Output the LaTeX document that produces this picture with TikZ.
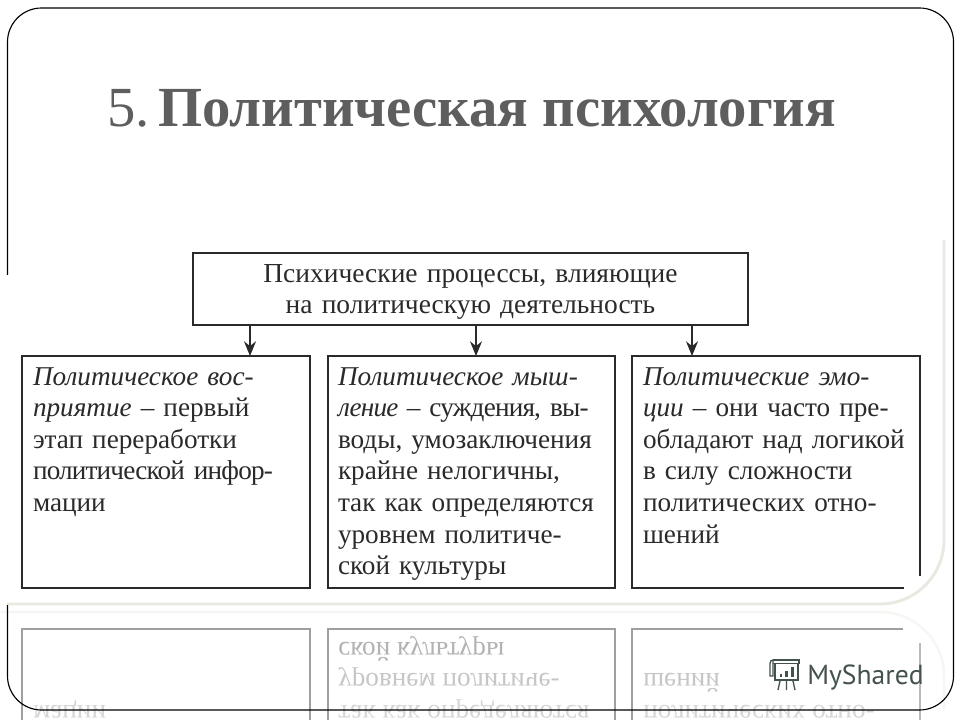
\documentclass[tikz,border=0pt]{standalone}
\usepackage{fontspec}
\setmainfont{Liberation Serif}
\newfontfamily\logofont{PT Sans}
\usetikzlibrary{arrows.meta}
\definecolor{inkc}{HTML}{2A2A2A}
\definecolor{titlec}{HTML}{5E5E5E}
\definecolor{edgec}{HTML}{E9E9E2}
\definecolor{edgeb}{HTML}{F6F6F2}
\definecolor{logoc}{HTML}{43524E}
\definecolor{r1c}{HTML}{B2B2B2}
\definecolor{r2c}{HTML}{C6C6C6}
\definecolor{r3c}{HTML}{D6D6D6}
\newcommand{\tightline}[1]{{\addfontfeature{LetterSpace=-3}#1}}
\tikzset{
  x=0.75pt,y=-0.75pt,
  boxline/.style={draw=inkc,line width=1.15pt},
  body/.style={font=\fontsize{20.4pt}{23.7pt}\selectfont,text=inkc},
  colbox/.style={boxline,body,anchor=north west,inner xsep=8.25pt,inner ysep=0pt,
    text width=199.5pt,align=left,text height=21.75pt,text depth=152.25pt,outer sep=0pt},
  topbox/.style={boxline,font=\fontsize{20.6pt}{22.5pt}\selectfont,text=inkc,align=center,inner sep=0pt,outer sep=0pt,
    text width=416.25pt,text height=22.5pt,text depth=31.5pt,anchor=north west},
  arr/.style={draw=inkc,line width=1.1pt,-{Stealth[length=11pt,width=9pt]}},
  frame/.style={draw=black,line width=0.85pt,rounded corners=25.5pt},
  reflbox/.style={line width=1.1pt},
  refltext/.style={font=\fontsize{20.4pt}{23.7pt}\selectfont,anchor=base west,inner sep=0pt},
}
\begin{document}
\begin{tikzpicture}
\useasboundingbox (0,0) rectangle (960,720);
\clip (0,0) rectangle (960,720);
\fill[white] (0,0) rectangle (960,720);

% reflection of the boxes
\draw[reflbox,draw=gray!75] (22,720) |- (310,629) -- (310,720);
\draw[reflbox,draw=gray!75] (328,720) |- (615,629) -- (615,720);
\draw[reflbox,draw=gray!75] (632,720) |- (903,629);
\draw[reflbox,draw=gray!55] (920,643) -- (920,720);
\begin{scope}[cm={1,0,0,-1,(0pt,-912.75pt)},transform shape]
  \node[refltext,text=r1c] (r2a) at (338,575) {ской культуры};
  \node[refltext,text=r2c] (r2b) at (338,543.5) {уровнем политиче-};
  \node[refltext,text=r3c] (r2c) at (338,512) {так как определяются};
  \node[refltext,text=r2c] (r3a) at (643,543.5) {шений};
  \node[refltext,text=r3c] (r3b) at (643,512) {политических отно-};
  \node[refltext,text=r3c] (r1a) at (33,512) {мации};
\end{scope}

% title
\node[anchor=base west,inner sep=0pt,text=titlec,font=\fontsize{42.5pt}{50pt}\selectfont] (title)
  at (107,127) {5.\hspace{6.4pt}\textbf{Политическая психология}};

% diagram
\node[topbox] (top) at (193,253) {Психические процессы, влияющие\\на политическую деятельность};
\node[colbox] (b1) at (22,356) {\textit{Политическое вос-}\\\textit{приятие} – первый\\этап переработки\\\tightline{политической инфор-}\\мации};
\node[colbox,inner xsep=7.5pt,text width=200.25pt] (b2) at (328,356) {\textit{Политическое мыш-}\\\tightline{\textit{ление} – суждения, вы-}\\воды, умозаключения\\крайне нелогичны,\\так как определяются\\уровнем политиче-\\ской культуры};
\node[colbox] (b3) at (632,356) {\textit{Политические эмо-}\\\textit{ции} – они часто пре-\\обладают над логикой\\в силу сложности\\политических отно-\\шений};
\coordinate (c1) at (250,0);
\coordinate (c2) at (476,0);
\coordinate (c3) at (692,0);
\draw[arr] (top.south -| c1) -- (b1.north -| c1);
\draw[arr] (top.south -| c2) -- (b2.north -| c2);
\draw[arr] (top.south -| c3) -- (b3.north -| c3);

% page ornament: clipped corner and pale rounded edge
\fill[white] (904,576) rectangle (923,592);
\draw[edgec,line width=2.2pt] (7,604) -- (880,604) arc[start angle=90,end angle=0,radius=64] -- (944,240);
\draw[edgeb,line width=1.8pt] (0,612) -- (880,612) arc[start angle=-90,end angle=0,radius=64] -- (944,710);

% logo
\begin{scope}[draw=logoc,fill=logoc]
  \draw[line width=1pt] (773,660) -- (799,660) -- (799,663.5) -- (773,663.5);
  \draw[line width=1pt] (773,660) .. controls (769,660) and (770,665) .. (770,672) -- (770,676) -- (773,676) -- (773,660);
  \draw[line width=1pt] (775,664) -- (775,680) -- (798,680) -- (798,664);
  \fill (780,674) rectangle (782,677);
  \fill (785,671) rectangle (788,677);
  \fill (791,667) rectangle (794,677);
  \draw[line width=1pt] (780,681) -- (778,690) (786.5,681) -- (786.5,690) (793,681) -- (795,690);
\end{scope}
\node[anchor=base west,inner sep=0pt,text=logoc,font=\logofont\fontsize{20.7pt}{25pt}\selectfont] (logo) at (807,684) {MyShared};

% slide frame
\draw[frame] (7.5,275) -- (7.5,8) -- (953.5,8) -- (953.5,710) -- (7.5,710) -- (7.5,605);
\end{tikzpicture}
\end{document}
